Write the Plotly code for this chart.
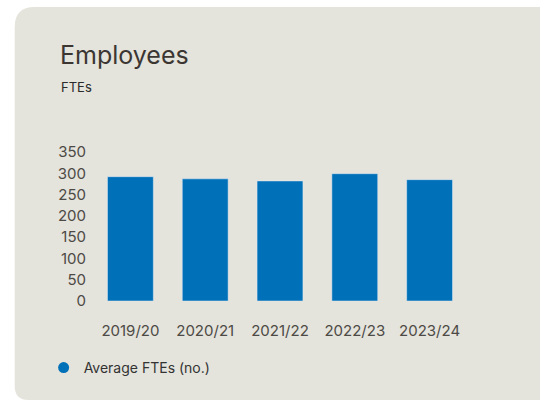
import plotly.graph_objects as go

categories = ["2019/20", "2020/21", "2021/22", "2022/23", "2023/24"]
average_ftes = [292, 287, 282, 299, 285]
series_name = "Average FTEs (no.)"
y_ticks = [0, 50, 100, 150, 200, 250, 300, 350]

W, H = 540, 401
# plot area in window pixels: x 92.5..467.5, y 152..301
L = 92.5
R = W - 467.5
T = 152
B = H - 301
PW, PH = W - L - R, H - T - B


def px(x):
    """window x pixel -> paper coordinate"""
    return (x - L) / PW


def py(y):
    """window y pixel -> paper coordinate"""
    return (H - B - y) / PH


card = "#E4E3DC"
bar_color = "#0070B8"
font_family = "Inter, Noto Sans, sans-serif"

fig = go.Figure()
fig.add_trace(go.Bar(x=categories, y=average_ftes, marker_color=bar_color,
                     showlegend=False, hoverinfo="x+y"))
fig.add_trace(go.Scatter(x=[None], y=[None], mode="markers", name=series_name,
                         marker=dict(symbol="circle", size=11, color=bar_color)))

# rounded card background (window pixels)
x0, y0, x1, y1 = 14, 7, 600, 400
r1, r2 = 20, 14
path = (f"M {px(x0)},{py(y0 + r1)} Q {px(x0)},{py(y0)} {px(x0 + r1)},{py(y0)} "
        f"L {px(x1)},{py(y0)} L {px(x1)},{py(y1)} L {px(x0 + r2)},{py(y1)} "
        f"Q {px(x0)},{py(y1)} {px(x0)},{py(y1 - r2)} Z")
fig.add_shape(type="path", path=path, xref="paper", yref="paper",
              fillcolor=card, line=dict(width=0), layer="below")

fig.add_annotation(text="Employees", xref="paper", yref="paper",
                   x=px(57), y=py(55), xanchor="left", yanchor="middle",
                   showarrow=False, font=dict(family=font_family, size=25, color="#3b3632"))
fig.add_annotation(text="FTEs", xref="paper", yref="paper",
                   x=px(58), y=py(87), xanchor="left", yanchor="middle",
                   showarrow=False, font=dict(family=font_family, size=13, color="#2a2a2a"))

fig.update_layout(
    width=W, height=H,
    margin=dict(l=L, r=R, t=T, b=B, pad=0),
    paper_bgcolor="white", plot_bgcolor="rgba(0,0,0,0)",
    bargap=0.387,
    font=dict(family=font_family, color="#4d4a45"),
    showlegend=True,
    legend=dict(x=px(43), y=py(368), xanchor="left", yanchor="middle",
                bgcolor="rgba(0,0,0,0)", itemwidth=30,
                font=dict(family=font_family, size=14, color="#333333")),
    xaxis=dict(showgrid=False, zeroline=False, showline=False, ticks="",
               tickfont=dict(size=15, color="#4d4a45"), ticklabelstandoff=19),
    yaxis=dict(range=[0, 350], tickvals=y_ticks, showgrid=False, zeroline=False,
               showline=False, ticks="", tickfont=dict(size=15, color="#4d4a45"),
               ticklabelstandoff=6),
)

fig.write_html(
    "out.html",
    config={"displayModeBar": False},
    post_script="document.body.style.margin='0';"
                "document.documentElement.style.overflow='hidden';"
                "document.body.style.overflow='hidden';",
)
